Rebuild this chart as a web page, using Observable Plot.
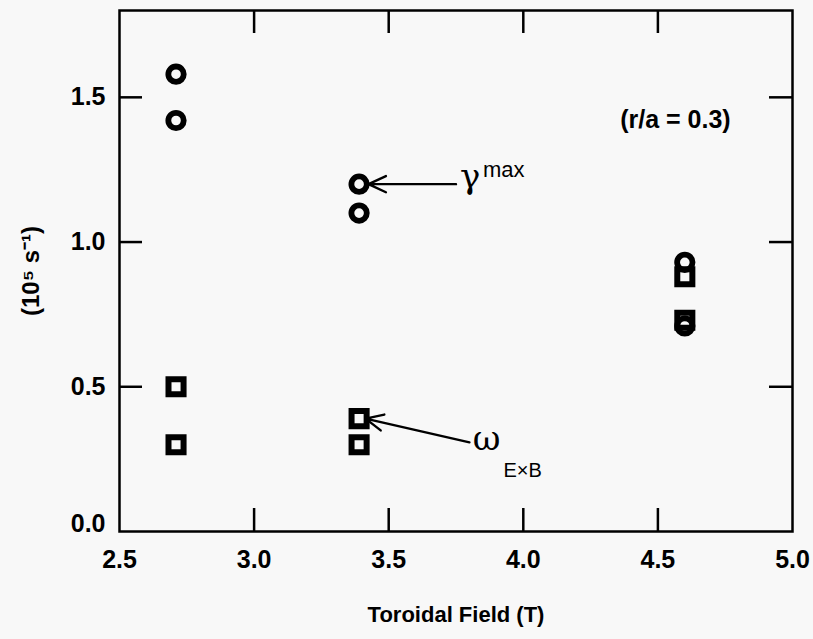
<!DOCTYPE html>
<html><head><meta charset="utf-8">
<script src="https://cdn.jsdelivr.net/npm/d3@7"></script>
<script src="https://cdn.jsdelivr.net/npm/@observablehq/plot@0.6"></script>
<style>
html,body{margin:0;padding:0;background:#f8f8f8;}
#chart svg{display:block;}
</style></head><body><div id="chart"></div>
<script>
// Data
const gammaField = [2.71, 2.71, 3.39, 3.39, 4.60, 4.60];
const gammaRate  = [1.58, 1.42, 1.20, 1.10, 0.93, 0.71];
const exbField   = [2.71, 2.71, 3.39, 3.39, 4.60, 4.60];
const exbRate    = [0.50, 0.30, 0.39, 0.30, 0.88, 0.73];

const xTickValues = [2.5, 3.0, 3.5, 4.0, 4.5, 5.0];
const yTickValues = [0.5, 1.0, 1.5];
const yZeroTick = [0.0];
const xInnerTicks = [3.0, 3.5, 4.0, 4.5];
const yInnerTicks = [0.5, 1.0, 1.5];

// annotation anchors (data units)
const arrowX1 = [3.75, 3.80];
const arrowY1 = [1.20, 0.308];
const arrowX2 = [3.425, 3.414];
const arrowY2 = [1.20, 0.39];
const gammaLabel = {x: 3.765, y: 1.225, text: "γ"};
const gammaSup = {x: 3.85, y: 1.25, text: "max"};
const omegaLabel = {x: 3.812, y: 0.318, text: "ω"};
const omegaSub = {x: 3.926, y: 0.211, text: "E×B"};
const noteLabel = {x: 4.565, y: 1.42, text: "(r/a = 0.3)"};

const gamma = gammaField.map((x, i) => ({x, y: gammaRate[i]}));
const exb = exbField.map((x, i) => ({x, y: exbRate[i]}));
const arrows = arrowX1.map((x1, i) => ({x1, y1: arrowY1[i], x2: arrowX2[i], y2: arrowY2[i]}));

const W = 813, H = 639;
const mL = 119, mR = 21, mT = 10, mB = 108;
const plotW = W - mL - mR, plotH = H - mT - mB;
const tickLen = 23;
const FONT = '"Liberation Sans", Arial, Helvetica, sans-serif';
const fmt = d3.format(".1f");

const chart = Plot.plot({
  width: W, height: H,
  marginLeft: mL, marginRight: mR, marginTop: mT, marginBottom: mB,
  style: {background: "#f8f8f8", fontFamily: FONT, color: "#000"},
  x: {domain: [2.5, 5.0]},
  y: {domain: [0, 1.8]},
  marks: [
    Plot.frame({stroke: "#000", strokeWidth: 2.5}),
    // inward ticks
    Plot.tickX(xInnerTicks, {x: d => d, insetTop: plotH - tickLen, stroke: "#000", strokeWidth: 2.5}),
    Plot.tickX(xInnerTicks, {x: d => d, insetBottom: plotH - tickLen, stroke: "#000", strokeWidth: 2.5}),
    Plot.tickY(yInnerTicks, {y: d => d, insetRight: plotW - tickLen, stroke: "#000", strokeWidth: 2.5}),
    Plot.tickY(yInnerTicks, {y: d => d, insetLeft: plotW - tickLen, stroke: "#000", strokeWidth: 2.5}),
    // tick labels
    Plot.axisX({ticks: xTickValues, tickSize: 0, tickPadding: 19, tickFormat: fmt, label: null, fontSize: 25, fontWeight: "bold"}),
    Plot.axisY({ticks: yTickValues, tickSize: 0, tickPadding: 14, tickFormat: fmt, label: null, fontSize: 25, fontWeight: "bold"}),
    Plot.axisY({ticks: yZeroTick, tickSize: 0, tickPadding: 14, tickFormat: fmt, label: null, fontSize: 25, fontWeight: "bold", dy: -8}),
    // axis titles
    Plot.text(["Toroidal Field (T)"], {frameAnchor: "bottom", textAnchor: "middle", dy: 83, fontSize: 22, fontWeight: "bold", lineAnchor: "middle"}),
    Plot.text(["(10⁵ s⁻¹)"], {frameAnchor: "left", textAnchor: "middle", dx: -88, rotate: -90, fontSize: 24, fontWeight: "bold", lineAnchor: "middle"}),
    // data
    Plot.dot(gamma, {x: "x", y: "y", r: 7.7, symbol: "circle", stroke: "#000", strokeWidth: 5.8, fill: "none"}),
    Plot.dot(exb, {x: "x", y: "y", r: 8.5, symbol: "square", stroke: "#000", strokeWidth: 6, fill: "none"}),
    // annotations
    Plot.arrow(arrows, {x1: "x1", y1: "y1", x2: "x2", y2: "y2", stroke: "#000", strokeWidth: 2.4, headLength: 12, headAngle: 50}),
    Plot.text([gammaLabel], {x: "x", y: "y", text: "text", textAnchor: "start", fontSize: 34, fontFamily: "DejaVu Serif, serif", lineAnchor: "middle"}),
    Plot.text([gammaSup], {x: "x", y: "y", text: "text", textAnchor: "start", fontSize: 22, lineAnchor: "middle"}),
    Plot.text([omegaLabel], {x: "x", y: "y", text: "text", textAnchor: "start", fontSize: 34, fontFamily: "DejaVu Serif, serif", lineAnchor: "middle"}),
    Plot.text([omegaSub], {x: "x", y: "y", text: "text", textAnchor: "start", fontSize: 20, lineAnchor: "middle"}),
    Plot.text([noteLabel], {x: "x", y: "y", text: "text", textAnchor: "middle", fontSize: 25, fontWeight: "bold", lineAnchor: "middle"})
  ]
});
document.getElementById("chart").appendChild(chart);
</script>
</body></html>
